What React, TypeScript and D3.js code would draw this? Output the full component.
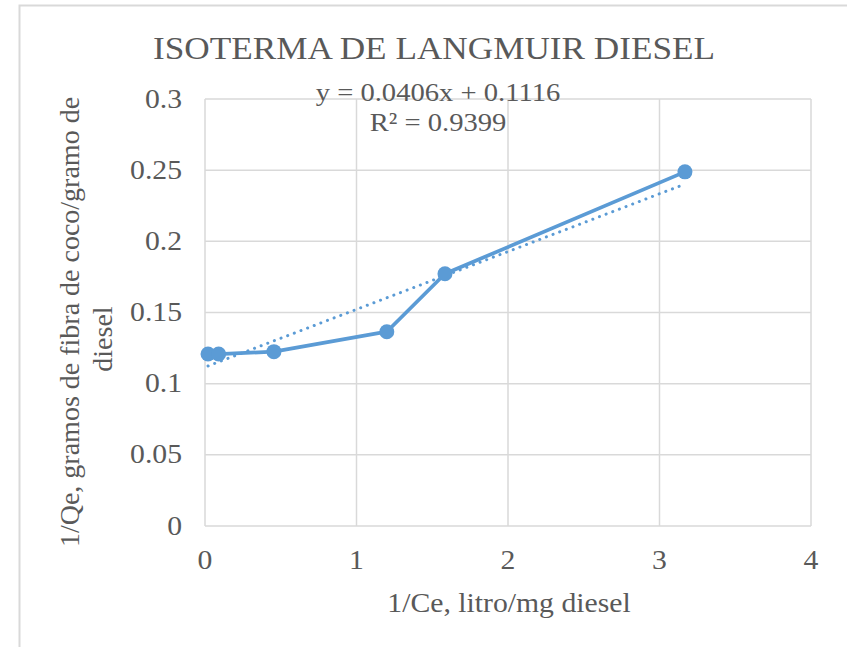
import React from "react";
import * as d3 from "d3";

const xValues = [0.02, 0.09, 0.455, 1.2, 1.584, 3.168];
const yValues = [0.1208, 0.1208, 0.1225, 0.1365, 0.1772, 0.2488];
const xTicks = [0, 1, 2, 3, 4];
const yTicks = [0, 0.05, 0.1, 0.15, 0.2, 0.25, 0.3];
const slope = 0.0406;
const intercept = 0.1116;
const rSquared = 0.9399;

const W = 847;
const H = 647;
const blue = "#5B9BD5";
const grid = "#D9D9D9";
const textColor = "#595959";
const font = "'Liberation Serif', 'Times New Roman', serif";
const sx = 1.1;

type LabelProps = {
  x: number;
  y: number;
  size: number;
  anchor?: "start" | "middle" | "end";
  children: React.ReactNode;
};

// Text with a slight horizontal widening, anchored at (x, y)
function Label({ x, y, size, anchor = "middle", children }: LabelProps) {
  return (
    <g transform={`translate(${x},${y}) scale(${sx},1)`}>
      <text x={0} y={0} textAnchor={anchor} fontSize={size} fill={textColor}>
        {children}
      </text>
    </g>
  );
}

export default function App() {
  const x = d3.scaleLinear().domain([0, 4]).range([205, 811]);
  const y = d3.scaleLinear().domain([0, 0.3]).range([526, 99]);
  const pts = xValues.map((v, i) => [v, yValues[i]] as [number, number]);
  const line = d3
    .line<[number, number]>()
    .x((d) => x(d[0]))
    .y((d) => y(d[1]));
  const xMin = d3.min(xValues)!;
  const xMax = d3.max(xValues)!;
  const trend: [number, number][] = [
    [xMin, slope * xMin + intercept],
    [xMax, slope * xMax + intercept],
  ];

  return (
    <svg
      width={W}
      height={H}
      style={{ position: "absolute", left: 0, top: 0, background: "#fff" }}
      fontFamily={font}
    >
      <rect x={19.5} y={5.5} width={W + 20} height={H + 20} fill="#fff" stroke="#D9D9D9" strokeWidth={2} />
      {xTicks.map((t) => (
        <line key={"gx" + t} x1={x(t)} x2={x(t)} y1={y(0)} y2={y(0.3)} stroke={grid} strokeWidth={1.5} />
      ))}
      {yTicks.map((t) => (
        <line key={"gy" + t} x1={x(0)} x2={x(4)} y1={y(t)} y2={y(t)} stroke={grid} strokeWidth={1.5} />
      ))}
      {xTicks.map((t) => (
        <Label key={"tx" + t} x={x(t)} y={569} size={27}>
          {t}
        </Label>
      ))}
      {yTicks.map((t) => (
        <Label key={"ty" + t} x={182} y={y(t) + 8.5} size={27} anchor="end">
          {String(t)}
        </Label>
      ))}
      <path
        d={line(trend)!}
        stroke={blue}
        strokeWidth={3}
        strokeDasharray="0.1 7"
        strokeLinecap="round"
        fill="none"
      />
      <path d={line(pts)!} stroke={blue} strokeWidth={3.75} fill="none" strokeLinejoin="round" />
      {pts.map((p, i) => (
        <circle key={i} cx={x(p[0])} cy={y(p[1])} r={7.5} fill={blue} />
      ))}
      <Label x={434} y={59} size={32}>
        ISOTERMA DE LANGMUIR DIESEL
      </Label>
      <Label x={438} y={101} size={26}>
        {`y = ${slope}x + ${intercept}`}
      </Label>
      <Label x={438} y={131} size={26}>
        {`R² = ${rSquared}`}
      </Label>
      <Label x={509} y={612} size={27}>
        1/Ce, litro/mg diesel
      </Label>
      <g transform="translate(79,322) rotate(-90)">
        <text x={0} y={0} textAnchor="middle" fontSize={28} fill={textColor}>
          1/Qe, gramos de fibra de coco/gramo de
        </text>
        <text x={-17} y={33} textAnchor="middle" fontSize={28} fill={textColor}>
          diesel
        </text>
      </g>
    </svg>
  );
}
